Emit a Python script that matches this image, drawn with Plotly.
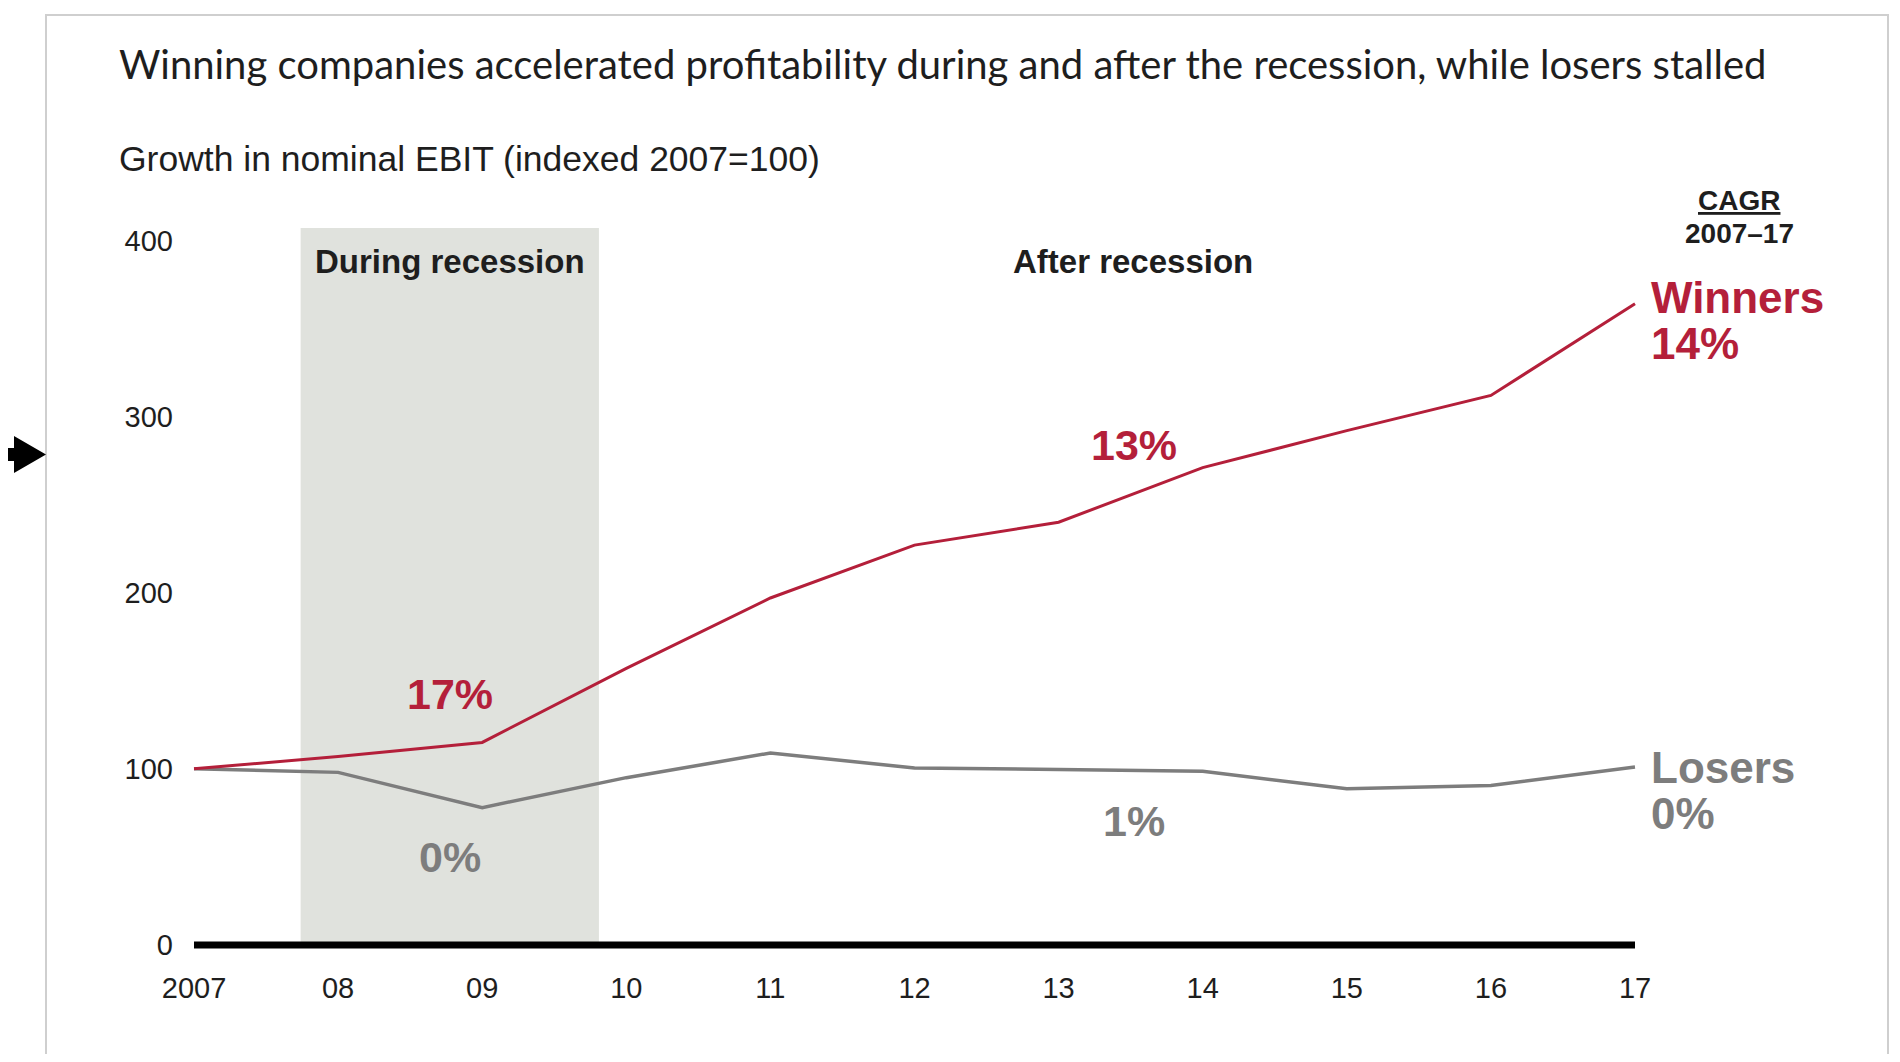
import plotly.graph_objects as go

# ---------------- data ----------------
years = [2007, 2008, 2009, 2010, 2011, 2012, 2013, 2014, 2015, 2016, 2017]
year_labels = ["2007", "08", "09", "10", "11", "12", "13", "14", "15", "16", "17"]
winners = [100, 107, 115, 157, 197, 227, 240, 271, 292, 312, 364]
losers = [100, 98, 78, 95, 109, 100.5, 99.7, 98.6, 88.7, 90.6, 101]
y_ticks = [0, 100, 200, 300, 400]
recession_span = [2007.74, 2009.81]

# ---------------- layout geometry ----------------
# The page adds an 8px body margin, so the figure is drawn 8px smaller and
# all reference-pixel positions are shifted by that offset.
OFF = 8
FW, FH = 1900 - 2 * OFF, 1062 - 2 * OFF
PL, PR, PT, PB = 180, 1700, 200, 955          # plot area in reference pixels
L, T = PL - OFF, PT - OFF
R, B = FW - (PR - OFF), FH - (PB - OFF)
W, H = PR - PL, PB - PT
px_per_year = 144.1
px_per_unit = 1.7615
x0_px, y0_px = 194, 945.0
x_range = [2007 - (x0_px - PL) / px_per_year, 2017 + (PR - 1635) / px_per_year]
y_range = [-(PB - y0_px) / px_per_unit, (y0_px - PT) / px_per_unit]


def pxx(x):
    return (x - PL) / W


def pxy(y):
    return 1 - (y - PT) / H


RED = "#b41f3a"
GREY = "#7d7d7d"
DARK = "#1e1e1e"
SANS = "Liberation Sans, Arial, sans-serif"

fig = go.Figure()

fig.add_trace(go.Scatter(x=years, y=losers, mode="lines",
                         line=dict(color=GREY, width=3.5), hoverinfo="skip",
                         showlegend=False))
fig.add_trace(go.Scatter(x=years, y=winners, mode="lines",
                         line=dict(color=RED, width=3), hoverinfo="skip",
                         showlegend=False))

shapes = []
# card
shapes.append(dict(type="rect", xref="paper", yref="paper",
                   x0=pxx(46), x1=pxx(1888), y0=pxy(1090), y1=pxy(15),
                   line=dict(color="#cfcfcf", width=2), fillcolor="rgba(0,0,0,0)",
                   layer="below"))
# recession band
shapes.append(dict(type="rect", xref="x", yref="y",
                   x0=recession_span[0], x1=recession_span[1], y0=0, y1=407,
                   fillcolor="#e0e2dd", line=dict(width=0), layer="below"))
# baseline
shapes.append(dict(type="line", xref="x", yref="y", x0=years[0], x1=years[-1],
                   y0=0, y1=0, line=dict(color="black", width=7), layer="above"))
# arrow at left edge
pts = [(0, 448), (14, 448), (14, 436), (46, 454.5), (14, 473), (14, 461), (0, 461)]
path = "M " + " L ".join(f"{pxx(a):.5f},{pxy(b):.5f}" for a, b in pts) + " Z"
shapes.append(dict(type="path", xref="paper", yref="paper", path=path,
                   fillcolor="black", line=dict(width=0)))

ann = []


def text(x, y, s, size, color=DARK, bold=False, anchor="center", family=SANS):
    ann.append(dict(xref="paper", yref="paper", x=pxx(x), y=pxy(y),
                    text=f"<b>{s}</b>" if bold else s, showarrow=False,
                    xanchor=anchor, yanchor="middle",
                    font=dict(size=size, color=color, family=family)))


def two_line(x, y, a, b, size, spacing, color):
    big = f'<span style="font-size:{size}px">'
    ann.append(dict(xref="paper", yref="paper", x=pxx(x), y=pxy(y),
                    text=f"{big}<b>{a}</b></span><br>{big}<b>{b}</b></span>",
                    showarrow=False, xanchor="left", yanchor="middle", align="left",
                    font=dict(size=spacing / 1.3, color=color, family=SANS)))


text(117, 64, "Winning companies accelerated profitability during and after the recession, while losers stalled",
     40, DARK, False, "left", "Lato, sans-serif")
text(117, 159, "Growth in nominal EBIT (indexed 2007=100)", 35.5, DARK, False, "left")
text(450, 261, "During recession", 33, DARK, True)
text(1133, 261, "After recession", 33, DARK, True)
text(1739, 200, "<u>CAGR</u>", 28, DARK, True)
text(1739, 234, "2007–17", 28, DARK, True)
two_line(1649, 320.5, "Winners", "14%", 44, 46, RED)
two_line(1649, 790, "Losers", "0%", 44, 46, GREY)
text(450, 694, "17%", 43, RED, True)
text(450, 857, "0%", 43, GREY, True)
text(1134, 445, "13%", 43, RED, True)
text(1134, 821, "1%", 43, GREY, True)

fig.update_layout(
    width=FW, height=FH,
    margin=dict(l=L, r=R, t=T, b=B),
    paper_bgcolor="white", plot_bgcolor="rgba(0,0,0,0)",
    shapes=shapes, annotations=ann, showlegend=False,
    xaxis=dict(range=x_range, tickvals=years, ticktext=year_labels,
               showgrid=False, zeroline=False, showline=False, ticks="",
               ticklabelstandoff=13,
               tickfont=dict(size=29, color=DARK, family=SANS)),
    yaxis=dict(range=y_range, tickvals=y_ticks, showgrid=False, zeroline=False,
               showline=False, ticks="", ticklabelstandoff=6,
               tickfont=dict(size=29, color=DARK, family=SANS)),
)

fig.write_html("out.html")
